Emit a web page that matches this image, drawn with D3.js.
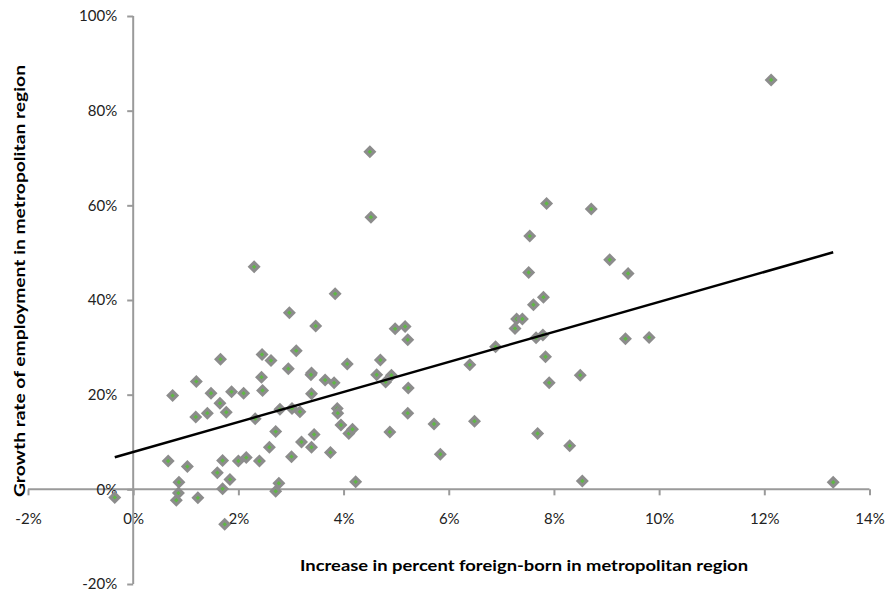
<!DOCTYPE html>
<html>
<head>
<meta charset="utf-8">
<script src="https://cdn.jsdelivr.net/npm/d3@7"></script>
<style>
  body { margin: 0; background: #fff; }
  text { font-family: "Century Gothic", "Lato", "Open Sans", sans-serif; }
</style>
</head>
<body>
<script>
// increase in percent foreign-born (x) and employment growth (y), in %
var foreignBorn = [-0.35, 0.665, 0.75, 0.82, 0.86, 0.87, 1.03, 1.19, 1.20, 1.23,
  1.41, 1.48, 1.60, 1.65, 1.66, 1.70, 1.70, 1.74, 1.77, 1.84,
  1.87, 2.00, 2.10, 2.15, 2.30, 2.32, 2.40, 2.44, 2.45, 2.46,
  2.59, 2.62, 2.71, 2.71, 2.77, 2.79, 2.95, 2.97, 3.01, 3.02,
  3.10, 3.17, 3.20, 3.39, 3.38, 3.39, 3.39, 3.44, 3.47, 3.65,
  3.75, 3.82, 3.84, 3.88, 3.89, 3.95, 4.07, 4.10, 4.17, 4.23,
  4.50, 4.52, 4.63, 4.70, 4.80, 4.88, 4.91, 4.98, 5.17, 5.22,
  5.23, 5.22, 5.72, 5.84, 6.40, 6.49, 6.89, 7.26, 7.29, 7.40,
  7.52, 7.54, 7.61, 7.66, 7.69, 7.79, 7.80, 7.84, 7.86, 7.91,
  8.30, 8.50, 8.54, 8.71, 9.06, 9.36, 9.41, 9.81, 12.13, 13.31];
var employment = [-1.7, 6.0, 19.8, -2.3, -0.8, 1.5, 4.8, 15.3, 22.8, -1.8,
  16.1, 20.3, 3.5, 18.2, 27.5, 6.1, 0.1, -7.4, 16.3, 2.1,
  20.6, 6.0, 20.3, 6.7, 47.0, 14.9, 6.0, 23.7, 28.5, 20.9,
  8.9, 27.2, 12.2, -0.4, 1.3, 16.9, 25.5, 37.3, 6.9, 17.1,
  29.3, 16.4, 10.0, 24.6, 24.2, 20.2, 8.9, 11.6, 34.5, 23.1,
  7.8, 22.5, 41.3, 17.1, 16.1, 13.6, 26.5, 11.8, 12.7, 1.6,
  71.3, 57.5, 24.2, 27.3, 22.7, 12.1, 24.1, 33.9, 34.4, 31.6,
  21.4, 16.1, 13.8, 7.4, 26.3, 14.4, 30.1, 34.0, 36.0, 36.0,
  45.8, 53.5, 39.0, 32.0, 11.8, 32.6, 40.6, 28.0, 60.4, 22.5,
  9.2, 24.1, 1.75, 59.2, 48.5, 31.8, 45.6, 32.1, 86.5, 1.5];

var xTicks = [-2, 0, 2, 4, 6, 8, 10, 12, 14];
var yTicks = [-20, 0, 20, 40, 60, 80, 100];

var w = 896, h = 592;

var svg = d3.select("body").append("svg")
    .attr("width", w)
    .attr("height", h);

var x = d3.scaleLinear().domain([-2, 14]).range([28, 869.5]);
var y = d3.scaleLinear().domain([-20, 100]).range([584, 16]);

var axisColor = "#9a9a9a";

// x axis through y = 0
var xAxis = svg.append("g")
    .attr("transform", "translate(0," + y(0) + ")")
    .call(d3.axisBottom(x).tickValues(xTicks).tickSize(6).tickPadding(18)
      .tickFormat(function(d) { return d + "%"; }));

// y axis through x = 0
var yAxis = svg.append("g")
    .attr("transform", "translate(" + x(0) + ",0)")
    .call(d3.axisLeft(y).tickValues(yTicks).tickSize(6).tickPadding(10)
      .tickFormat(function(d) { return d + "%"; }));

[xAxis, yAxis].forEach(function(a) {
  a.select(".domain").attr("stroke", axisColor).attr("stroke-width", 2);
  a.selectAll(".tick line").attr("stroke", axisColor).attr("stroke-width", 2);
  a.selectAll(".tick text").attr("fill", "#222").style("font-size", "15px");
});
// hide the outer path caps by redrawing the domain as plain lines
xAxis.select(".domain").attr("d", "M" + x(-2) + ",0H" + x(14));
yAxis.select(".domain").attr("d", "M0," + y(-20) + "V" + y(100));

// least-squares trend line over data range
var n = foreignBorn.length;
var mx = d3.mean(foreignBorn), my = d3.mean(employment);
var sxy = 0, sxx = 0;
for (var i = 0; i < n; i++) {
  sxy += (foreignBorn[i] - mx) * (employment[i] - my);
  sxx += (foreignBorn[i] - mx) * (foreignBorn[i] - mx);
}
var slope = sxy / sxx, icpt = my - slope * mx;
var ext = d3.extent(foreignBorn);

var points = foreignBorn.map(function(d, i) { return [d, employment[i]]; });

var marks = svg.append("g").selectAll("g")
    .data(points)
    .enter()
    .append("g")
    .attr("transform", function(d) { return "translate(" + x(d[0]) + "," + y(d[1]) + ")"; });

marks.append("path")
    .attr("d", "M0,-6.5L6.5,0L0,6.5L-6.5,0Z")
    .attr("fill", "#8c8c8c");
marks.append("path")
    .attr("d", "M0,-2.2L2.2,0L0,2.2L-2.2,0Z")
    .attr("fill", "#5fb845");

svg.append("line")
    .attr("x1", x(ext[0])).attr("y1", y(icpt + slope * ext[0]))
    .attr("x2", x(ext[1])).attr("y2", y(icpt + slope * ext[1]))
    .attr("stroke", "#000")
    .attr("stroke-width", 2.5);

svg.append("text")
    .attr("x", 524).attr("y", 571)
    .attr("text-anchor", "middle")
    .attr("font-weight", "bold")
    .attr("textLength", 448)
    .attr("lengthAdjust", "spacingAndGlyphs")
    .style("font-size", "15px")
    .text("Increase in percent foreign-born in metropolitan region");

svg.append("text")
    .attr("transform", "translate(25,281) rotate(-90)")
    .attr("text-anchor", "middle")
    .attr("font-weight", "bold")
    .attr("textLength", 432)
    .attr("lengthAdjust", "spacingAndGlyphs")
    .style("font-size", "15px")
    .text("Growth rate of employment in metropolitan region");
</script>
</body>
</html>
